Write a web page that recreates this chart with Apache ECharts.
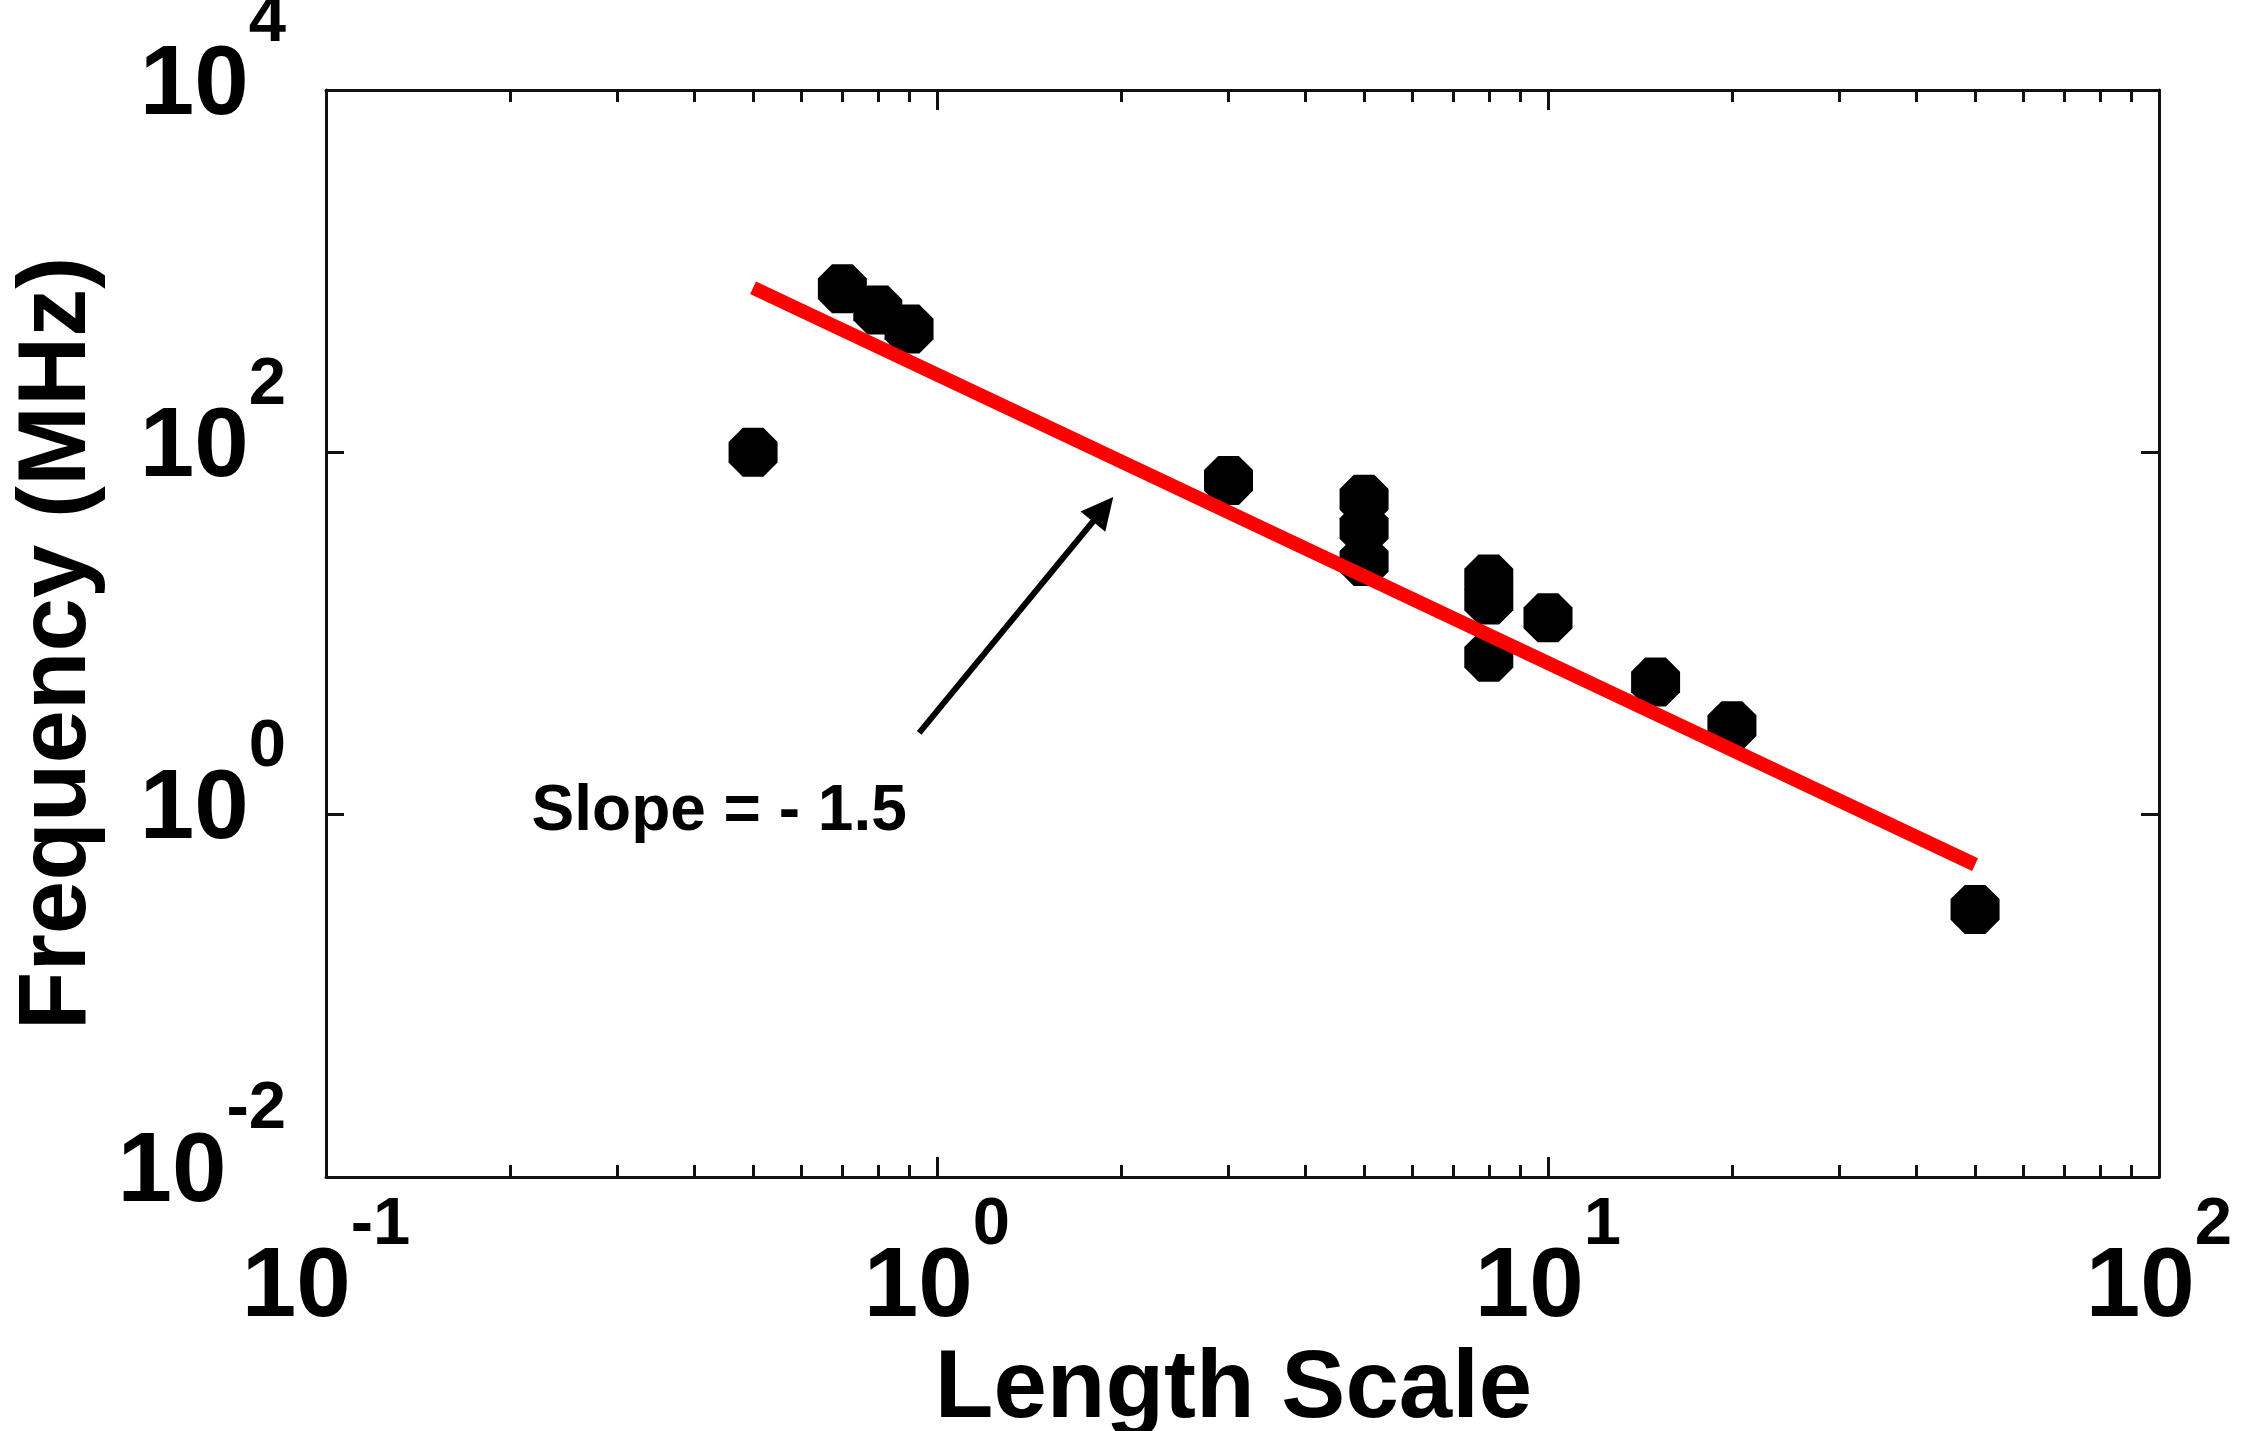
<!DOCTYPE html>
<html>
<head>
<meta charset="utf-8">
<script src="https://cdn.jsdelivr.net/npm/echarts@6/dist/echarts.min.js"></script>
<style>
  html, body { margin: 0; padding: 0; background: #fff; }
  #chart { width: 2241px; height: 1431px; }
</style>
</head>
<body>
<div id="chart"></div>
<script>
// measured points (length scale vs frequency in MHz)
const lengthScale = [0.5, 0.7, 0.8, 0.9, 3, 5, 5, 5, 8, 8, 8, 10, 15, 20, 50]
const frequency = [100, 800, 610, 480, 70, 55, 38, 25, 20, 15.3, 7.4, 12.2, 5.4, 3.1, 0.3]

// red fit line, end points
const fitX = [0.5, 50]
const fitY = [810, 0.53]

// annotation arrow + text (data coords)
const arrowFrom = [0.935, 2.83]
const arrowTo = [1.87, 48.5]
const slopeText = 'Slope = - 1.5'
const slopeAt = [0.217, 1.03]

// ticks
const xMajorTicks = [0.1, 1, 10, 100]
const xMinorTicks = [0.2, 0.3, 0.4, 0.5, 0.6, 0.7, 0.8, 0.9,
  2, 3, 4, 5, 6, 7, 8, 9,
  20, 30, 40, 50, 60, 70, 80, 90]
const yMajorTicks = [0.01, 1, 100, 10000]

const FONT = '"Liberation Sans", Arial, Helvetica, sans-serif'
const AXIS_COLOR = '#111'

const powerLabel = (v) => {
  const e = Math.round(Math.log10(v))
  return '{b|10}{e|' + e + '}'
}

// "10" sits at the bottom of a tall line, exponent hangs at the top
const labelRich = {
  b: { fontSize: 98, fontWeight: 'bold', fontFamily: FONT, lineHeight: 146, verticalAlign: 'bottom', color: '#000' },
  e: { fontSize: 67, fontWeight: 'bold', fontFamily: FONT, lineHeight: 67, verticalAlign: 'top', color: '#000' }
}

function xAxisDef(position, ticks, len, withLine, withLabels) {
  return {
    type: 'log',
    logBase: 10,
    position: position,
    min: 0.1,
    max: 100,
    gridIndex: 0,
    splitLine: { show: false },
    axisLine: { show: withLine, onZero: false, lineStyle: { color: AXIS_COLOR, width: 3 } },
    axisTick: { show: true, inside: true, length: len, customValues: ticks, lineStyle: { color: AXIS_COLOR, width: 3 } },
    axisLabel: withLabels
      ? { show: true, customValues: xMajorTicks, margin: 15, formatter: powerLabel, rich: labelRich }
      : { show: false },
    minorTick: { show: false }
  }
}

function yAxisDef(position, withLabels) {
  const ax = {
    type: 'log',
    logBase: 10,
    position: position,
    min: 0.01,
    max: 10000,
    splitLine: { show: false },
    axisLine: { show: true, onZero: false, lineStyle: { color: AXIS_COLOR, width: 3 } },
    axisTick: { show: true, inside: true, length: 18, customValues: yMajorTicks, lineStyle: { color: AXIS_COLOR, width: 3 } },
    axisLabel: withLabels
      ? { show: true, customValues: yMajorTicks, margin: 40, padding: [0, 0, 55, 0], formatter: powerLabel, rich: labelRich }
      : { show: false }
  }
  if (withLabels) {
    ax.name = 'Frequency (MHz)'
    ax.nameLocation = 'middle'
    ax.nameGap = 188
    ax.nameTextStyle = { fontSize: 96, fontWeight: 'bold', fontFamily: FONT, color: '#000', lineHeight: 96, padding: [0, 20, 0, 0] }
  }
  return ax
}

const chart = echarts.init(document.getElementById('chart'), null, { renderer: 'canvas' })

const xMain = xAxisDef('bottom', xMajorTicks, 20, true, true)
xMain.name = 'Length Scale'
xMain.nameLocation = 'middle'
xMain.nameGap = 150
xMain.nameTextStyle = { fontSize: 96, fontWeight: 'bold', fontFamily: FONT, color: '#000', lineHeight: 96, padding: [0, 18, 0, 0] }

const option = {
  animation: false,
  backgroundColor: '#fff',
  grid: { left: 326, right: 82, top: 90, bottom: 254, containLabel: false, outerBoundsMode: 'none' },
  xAxis: [
    xMain,
    xAxisDef('bottom', xMinorTicks, 12, false, false),
    xAxisDef('top', xMajorTicks, 20, true, false),
    xAxisDef('top', xMinorTicks, 12, false, false)
  ],
  yAxis: [
    yAxisDef('left', true),
    yAxisDef('right', false)
  ],
  series: [
    {
      type: 'scatter',
      xAxisIndex: 0,
      yAxisIndex: 0,
      z: 2,
      symbol: 'path://M29 0 L71 0 L100 29 L100 71 L71 100 L29 100 L0 71 L0 29 Z',
      symbolSize: 49,
      itemStyle: { color: '#000', opacity: 1 },
      emphasis: { disabled: true },
      data: lengthScale.map((x, i) => [x, frequency[i]]),
      markPoint: {
        silent: true,
        symbol: 'circle',
        symbolSize: 0,
        data: [{ coord: slopeAt }],
        label: {
          show: true,
          position: 'right',
          distance: 0,
          formatter: slopeText,
          fontSize: 64,
          fontWeight: 'bold',
          fontFamily: FONT,
          color: '#000'
        }
      }
    },
    {
      type: 'line',
      xAxisIndex: 0,
      yAxisIndex: 0,
      z: 3,
      showSymbol: false,
      symbol: 'none',
      lineStyle: { color: '#ff0000', width: 14 },
      emphasis: { disabled: true },
      data: fitX.map((x, i) => [x, fitY[i]]),
      markLine: {
        silent: true,
        symbol: ['none', 'triangle'],
        symbolSize: 32,
        label: { show: false },
        lineStyle: { color: '#000', width: 6, type: 'solid' },
        data: [[{ coord: arrowFrom }, { coord: arrowTo }]]
      }
    }
  ]
}

chart.setOption(option)
</script>
</body>
</html>
